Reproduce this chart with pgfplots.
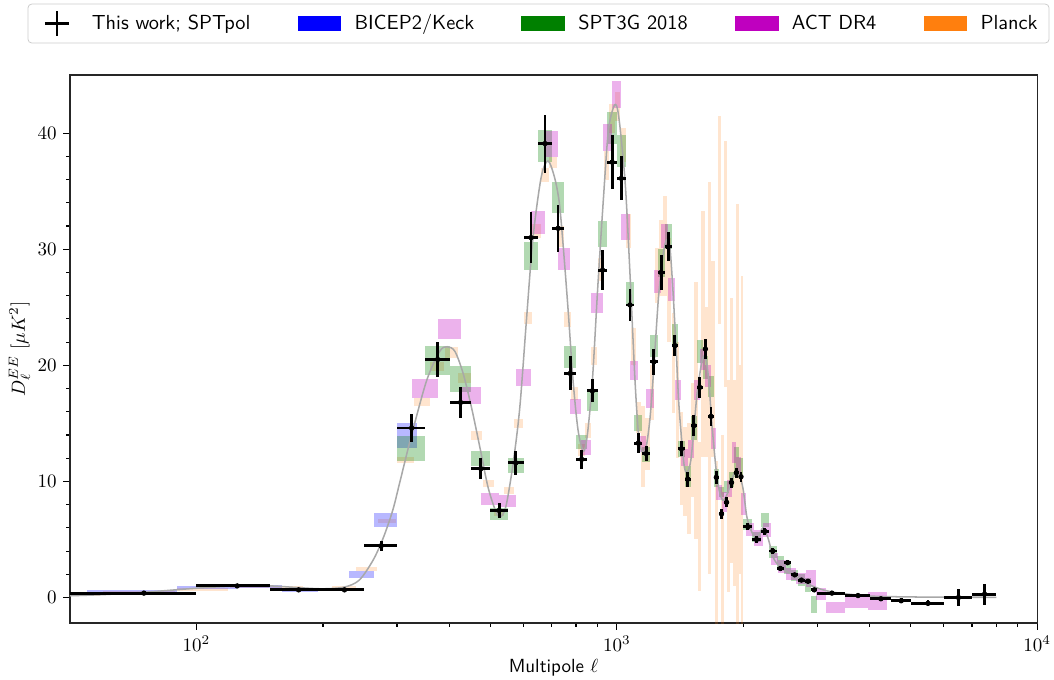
\documentclass[border=0pt]{standalone}
\usepackage{pgfplots}
\usepackage{pgfplotstable}
\pgfplotsset{compat=1.18}
\definecolor{cBK}{rgb}{0,0,1}
\definecolor{cSPT}{rgb}{0,0.5,0}
\definecolor{cACT}{rgb}{0.75,0,0.75}
\definecolor{cPL}{rgb}{1,0.498,0.055}
\definecolor{cTh}{rgb}{0.66,0.66,0.66}

% SPTpol (this work): bin centre, D, half bin width, error
\pgfplotstableread{
l D ex ey
75 0.38 25 0.06
125 1.0 25 0.1
175 0.66 25 0.06
225 0.66 25 0.08
275 4.45 25 0.46
325 14.6 25 1.18
375 20.5 25 1.53
425 16.8 25 1.33
475 11.1 25 0.89
525 7.5 25 0.67
575 11.6 25 1.03
625 31.0 25 2.2
675 39.1 25 2.5
725 31.8 25 2.0
775 19.3 25 1.46
825 11.9 25 0.79
875 17.8 25 1.0
925 28.2 25 1.72
975 37.5 25 2.34
1025 36.1 25 1.9
1075 25.2 25 1.4
1125 13.3 25 0.85
1175 12.4 25 0.65
1225 20.3 25 1.1
1275 28.0 25 1.5
1325 30.2 25 1.25
1375 21.7 25 0.93
1425 12.8 25 0.65
1475 10.2 25 0.65
1525 14.8 25 0.93
1575 18.1 25 0.93
1625 21.4 25 0.86
1675 15.6 25 0.8
1725 10.35 25 0.57
1775 7.2 25 0.4
1825 8.2 25 0.43
1875 9.9 25 0.43
1925 10.75 25 0.43
1975 10.4 25 0.43
2050 6.1 50 0.3
2150 5.0 50 0.28
2250 5.7 50 0.28
2350 4.0 50 0.25
2450 2.5 50 0.22
2550 3.0 50 0.2
2650 1.95 50 0.2
2750 1.5 50 0.2
2850 1.4 50 0.2
2950 0.66 50 0.2
3250 0.38 250 0.15
3750 0.17 250 0.15
4250 -0.11 250 0.15
4750 -0.28 250 0.2
5500 -0.5 500 0.25
6500 0.0 500 0.75
7500 0.29 500 0.9
}\tblS

% theory curve
\pgfplotstableread{
l D
50 0.15
60 0.25
75 0.45
100 0.8
125 1.0
150 1.0
175 0.85
200 0.75
225 0.9
244 1.5
263 3.2
278 5.1
293 7.5
305 10.0
325 14.0
353 18.7
379 21.2
395 21.6
412 21.2
431 19.3
451 16.4
472 13.0
494 9.5
517 7.3
531 7.0
546 8.0
567 11.6
588 16.4
610 24.0
632 31.0
661 36.2
686 37.6
711 36.2
730 34.0
746 30.2
767 24.5
787 18.7
809 14.4
833 12.6
851 14.0
875 18.7
901 26.7
930 34.5
955 40.2
984 42.3
1002 42.2
1020 40.2
1049 35.3
1077 27.3
1105 18.7
1128 13.8
1152 12.5
1175 13.0
1200 15.5
1225 19.8
1257 25.9
1290 29.6
1314 30.8
1337 30.3
1360 26.5
1384 21.5
1406 16.5
1445 11.5
1470 10.8
1500 11.8
1530 15.0
1553 17.6
1596 20.4
1626 20.7
1655 18.7
1686 14.7
1735 10.1
1785 8.4
1835 9.0
1906 10.7
1962 10.4
1999 9.3
2038 7.0
2080 5.9
2133 5.2
2180 5.4
2230 6.0
2291 5.1
2354 3.5
2420 2.8
2490 2.4
2580 2.1
2677 1.8
2877 1.1
3094 0.66
3385 0.38
4046 0.12
5000 0.05
6000 0.03
8000 0.02
}\tblT

% BICEP2/Keck boxes
\pgfplotstableread{
lo hi ymin ymax
55 90 0.38 0.65
90 125 0.75 1.0
125 160 0.8 1.05
160 195 0.45 0.85
195 230 0.6 0.85
230 265 1.7 2.3
265 300 6.1 7.3
300 335 12.9 15.0
}\tblB

% SPT3G 2018 boxes
\pgfplotstableread{
lo hi ymin ymax
300 350 11.8 13.9
350 400 19.2 21.7
400 450 17.7 19.9
450 500 11.3 12.6
500 550 6.7 7.7
550 600 10.7 12.0
600 650 28.2 30.6
650 700 37.5 40.3
700 750 33.1 35.8
750 800 19.8 21.7
800 850 12.8 14.0
850 900 16.1 17.7
900 950 30.2 32.4
950 1000 39.1 41.8
1000 1050 37.1 39.8
1050 1100 25.3 27.2
1100 1150 14.3 15.7
1150 1200 11.7 13.0
1200 1250 20.7 22.6
1250 1300 27.6 30.0
1300 1350 30.0 32.2
1350 1400 21.7 23.6
1400 1450 12.1 13.5
1450 1500 9.5 11.3
1500 1550 13.6 15.6
1550 1600 20.2 22.2
1600 1650 18.8 20.8
1650 1700 17.3 19.1
1700 1750 9.5 11.1
1750 1800 8.7 9.5
1800 1850 9.0 10.0
1850 1900 9.5 10.8
1900 1950 10.4 13.0
1950 2000 10.3 12.0
2000 2100 5.8 6.8
2100 2200 4.8 5.6
2200 2300 6.1 7.3
2300 2400 3.4 4.4
2400 2500 2.6 3.6
2500 2600 2.0 3.0
2600 2700 1.4 2.4
2700 2800 1.0 2.0
2800 2900 0.5 1.7
2900 3000 -1.3 0.1
}\tblG

% ACT DR4 boxes
\pgfplotstableread{
lo hi ymin ymax
325 375 17.2 18.8
375 425 22.3 24.0
425 475 16.7 18.1
475 525 8.0 9.0
525 575 7.8 8.8
575 625 18.2 19.7
625 675 31.3 33.3
675 725 37.9 40.2
725 775 28.2 30.1
775 820 15.8 17.1
820 870 12.3 13.6
870 925 24.5 26.2
925 975 38.5 40.8
975 1025 42.2 44.5
1025 1075 30.8 33.0
1075 1125 18.7 20.4
1125 1175 12.5 13.9
1175 1225 16.3 18.0
1225 1275 26.2 28.2
1275 1325 30.1 32.2
1325 1375 25.5 27.5
1375 1425 17.0 18.7
1425 1475 11.3 12.8
1475 1525 12.0 13.6
1525 1575 17.0 18.7
1575 1625 19.6 21.4
1625 1675 18.1 20.0
1675 1725 12.8 14.6
1725 1775 8.4 9.7
1775 1825 7.4 9.1
1825 1875 8.7 10.1
1875 1925 11.6 13.4
1925 1975 10.4 12.1
1975 2025 7.1 9.0
2025 2125 5.3 6.4
2125 2225 4.4 5.8
2225 2325 5.2 6.4
2325 2425 2.8 3.8
2425 2525 2.1 3.2
2525 2675 1.5 2.5
2675 2825 1.2 2.1
2825 2975 0.9 2.4
2975 3150 -0.2 0.8
3150 3500 -1.35 -0.35
3500 3950 -0.9 0.3
3950 4400 -1.05 0.5
}\tblA

% Planck boxes
\pgfplotstableread{
lo hi ymin ymax
30 59 0.15 0.35
60 89 0.35 0.55
90 119 0.6 0.8
120 149 0.85 1.05
150 179 0.8 1.0
180 209 0.65 0.85
210 239 0.85 1.0
240 269 2.3 2.6
270 299 6.4 6.8
300 329 11.55 12.1
330 359 16.5 17.2
360 389 19.5 20.3
390 419 20.6 21.6
420 449 18.5 19.3
450 479 13.6 14.3
480 509 9.5 10.1
510 539 7.0 7.6
540 569 8.9 9.5
570 599 14.6 15.4
600 629 23.6 24.6
630 659 31.0 32.2
660 689 35.8 37.0
690 719 37.0 37.9
720 749 30.2 32.0
750 779 23.3 24.6
780 809 17.0 18.1
810 839 12.2 13.2
840 869 13.7 15.0
870 899 20.0 21.6
900 929 27.3 29.2
930 959 36.0 38.5
960 989 40.0 42.5
990 1019 41.0 43.5
1020 1049 37.5 40.4
1050 1079 30.1 33.0
1080 1109 20.0 23.2
1110 1139 14.2 16.8
1140 1169 9.5 16.5
1170 1199 11.0 15.5
1200 1229 15.3 20.0
1230 1259 25.4 30.1
1260 1289 26.0 32.5
1290 1319 26.0 34.6
1320 1349 22.0 31.0
1350 1379 15.9 24.5
1380 1409 12.0 22.0
1410 1439 8.0 16.0
1440 1469 7.0 14.7
1470 1499 5.5 15.0
1500 1529 8.7 18.5
1530 1559 5.0 27.2
1560 1589 0.6 13.4
1590 1619 12.1 33.3
1620 1649 12.1 25.0
1650 1679 2.0 35.8
1680 1709 12.1 29.0
1710 1739 -5.0 11.8
1740 1769 23.6 41.5
1770 1799 -10.0 14.0
1800 1829 18.1 39.3
1830 1859 0.5 18.7
1860 1889 3.0 25.8
1890 1919 1.0 18.7
1920 1949 -12.0 33.9
1950 1979 2.0 20.0
1980 1996 -8.0 27.7
}\tblP

\newcommand{\drawboxes}[2]{%
  \pgfplotstablegetrowsof{#1}%
  \pgfmathtruncatemacro{\nb}{\pgfplotsretval-1}%
  \pgfplotsforeachungrouped \r in {0,...,\nb}{%
    \pgfplotstablegetelem{\r}{lo}\of{#1}\let\bxa\pgfplotsretval
    \pgfplotstablegetelem{\r}{hi}\of{#1}\let\bxb\pgfplotsretval
    \pgfplotstablegetelem{\r}{ymin}\of{#1}\let\bya\pgfplotsretval
    \pgfplotstablegetelem{\r}{ymax}\of{#1}\let\byb\pgfplotsretval
    \edef\tmp{\noexpand\addplot[#2] coordinates {(\bxa,\bya) (\bxb,\bya) (\bxb,\byb) (\bxa,\byb)};}%
    \tmp
  }%
}

\pgfplotsset{
  boxP/.style={fill=cPL, fill opacity=0.2, draw=none, forget plot},
  boxB/.style={fill=cBK, fill opacity=0.28, draw=none, forget plot},
  boxG/.style={fill=cSPT, fill opacity=0.3, draw=none, forget plot},
  boxA/.style={fill=cACT, fill opacity=0.3, draw=none, forget plot},
}

\begin{document}
\begin{tikzpicture}
\begin{axis}[
  name=ax,
  scale only axis, width=509pt, height=288.4pt,
  xmode=log, xmin=50, xmax=10000, ymin=-2.2, ymax=45,
  xtick={100,1000,10000},
  ytick={0,10,20,30,40}, minor y tick num=4,
  tick align=outside, tick pos=left,
  major tick length=3.5pt, minor tick length=2pt,
  tick style={black, line width=0.6pt},
  axis line style={black!85, line width=0.6pt},
  xlabel={\sffamily Multipole $\ell$},
  xlabel style={yshift=3pt},
  ylabel={$D_\ell^{EE}$ $[\mu K^2]$},
  ylabel style={yshift=-3pt},
  legend columns=5,
  legend cell align=left,
  legend style={at={(0.4845,1.094)}, anchor=center, draw=black!20,
    rounded corners=2pt, font=\fontsize{10.7pt}{12pt}\selectfont\sffamily,
    inner xsep=4pt, inner ysep=3pt,
    /tikz/every odd column/.append style={column sep=5pt},
    /tikz/every even column/.append style={column sep=22.8pt}},
]
\addlegendimage{legend image code/.code={\path[draw=none, fill=none] (0pt,-5pt) rectangle (22.6pt,5pt); \draw[black, line width=1.5pt, sharp corners] (4.9pt,0pt) -- (17.7pt,0pt) (11.3pt,-6.5pt) -- (11.3pt,6.5pt);}}
\addlegendentry{This work; SPTpol}
\addlegendimage{legend image code/.code={\fill[cBK, sharp corners] (0pt,-3.8pt) rectangle (22.6pt,3.8pt);}}
\addlegendentry{BICEP2/Keck}
\addlegendimage{legend image code/.code={\fill[cSPT, sharp corners] (0pt,-3.8pt) rectangle (22.6pt,3.8pt);}}
\addlegendentry{SPT3G 2018}
\addlegendimage{legend image code/.code={\fill[cACT, sharp corners] (0pt,-3.8pt) rectangle (22.6pt,3.8pt);}}
\addlegendentry{ACT DR4}
\addlegendimage{legend image code/.code={\fill[cPL, sharp corners] (0pt,-3.8pt) rectangle (22.6pt,3.8pt);}}
\addlegendentry{Planck}

\drawboxes{\tblP}{boxP}
\drawboxes{\tblB}{boxB}
\drawboxes{\tblG}{boxG}
\drawboxes{\tblA}{boxA}

\addplot[cTh, line width=0.8pt, smooth, forget plot] table[x=l, y=D] {\tblT};

\addplot[black, only marks, mark=*, mark size=1.2pt, forget plot,
  error bars/.cd, x dir=both, x explicit, y dir=both, y explicit,
  error mark=none, error bar style={line width=1.5pt, black}]
  table[x=l, y=D, x error=ex, y error=ey] {\tblS};
\end{axis}
\pgfresetboundingbox
\path[use as bounding box] ([xshift=-36.8pt,yshift=-29.5pt]ax.south west) rectangle ([xshift=8.9pt,yshift=39.5pt]ax.north east);
\end{tikzpicture}
\end{document}
